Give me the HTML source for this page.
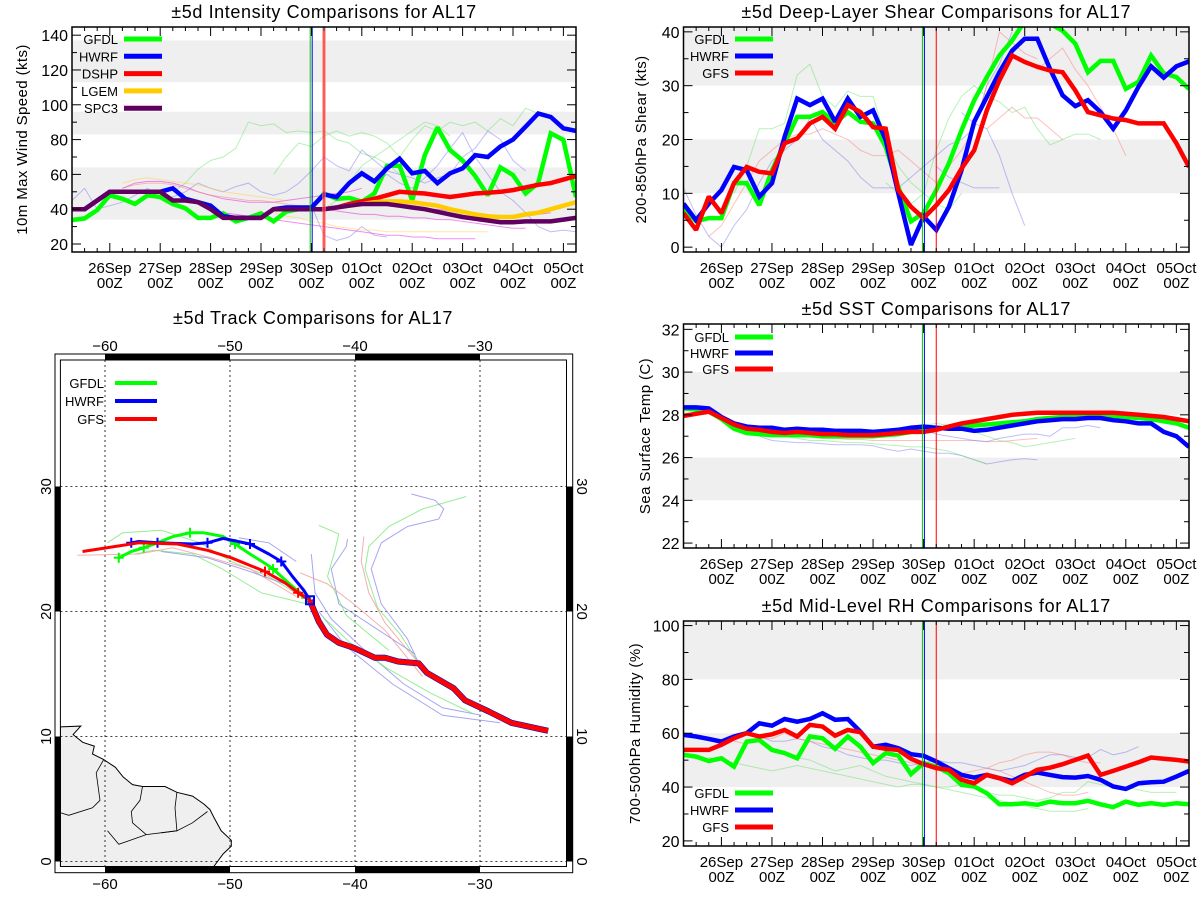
<!DOCTYPE html>
<html><head><meta charset="utf-8"><title>AL17 ±5d comparisons</title>
<style>
html,body{margin:0;padding:0;background:#fff;}
svg{display:block;font-family:"Liberation Sans",Arial,sans-serif;}
</style></head>
<body>
<svg id="fig" width="1200" height="900" viewBox="0 0 1200 900" xmlns="http://www.w3.org/2000/svg"></svg>
<script>
// ---------- shared time axis ----------
const dayLabels = ['26Sep','27Sep','28Sep','29Sep','30Sep','01Oct','02Oct','03Oct','04Oct','05Oct'];
const hourLabel = '00Z';

// ---------- intensity (kt) ----------
const intGFDL = [33.8,34.7,39.5,48,46,43,48,47,43,40.5,35,35,37.6,33,35,37.6,33,38.6,40,40.5,49,46,46.5,44.3,49,65,65,45,71,87,74,68,59,48,64,59.6,49,55,83.6,79.8,47];
const intHWRF = [40,40,45,50,50,50,50,50,52,46,44,42,36,35,35,35,40,41,41,41,48.5,47,55,60.6,56,63.5,69,60.6,62,55,60.6,63.5,71,70,76,80,87.4,95,93,86.5,85];
const intDSHP = [40,41,43,44.5,46,48,50,49.5,49,48,47,48,49,49.5,50,51,52.5,54,55,57,59];
const intLGEM = [40,41,42,43,44,44.5,44.5,44,43,42,40,38.5,37,36,35.5,35.5,37,38,40,42,44];
const intSPC3 = [40,40,45,50,50,50,50,50,45,45,44,40,35,35,35,35,40,40,40,40,40,41,42,43,43,43,42,41,40,38.5,37,35.5,34.5,33.5,32.5,32.5,33,33,33,34,35];
const intThinG1 = [50,55,63,68,70,75,90,88,89,84,85,84,85,80,78,72,70,66,60];
const intThinG2 = [60,70,78,76,82,85,82,84,82,78,70,80,88,85,90,88,90,85,92,88,98,95];
const intThinG3 = [40,45,55,65,70,75,80,85,90,88,82];
const intThinB1 = [45,52,40,42,44,48,52,46,47,50,55,52,50,53,55,50,48,50,55,62,70,65,62,74,68,62,60,58,55,58,60,70,75,85,80,68,62];
const intThinB2 = [40,42,25,22,24,30,25,24];
const intThinB3 = [55,60,55,52,58,65,75,84,70,60,50,45,38,30,27,28,27];
const intThinM1 = [52,55,56,56,55,53,50,48,46,45,44,44,44,45,46,47,48,49,50,52];
const intThinM2 = [38,37,36,35,34,33,32,31,30,29,28,27,26,25,25,24,24,23,23,23,23];
const intThinM3 = [40,39,38,37,37,36,36,35,35,34,34,33,32,31,30,29,29];
const intThinM4 = [40,40,39,38,37,36,35,35,36,37,38];
const intThinY1 = [55,57,58,57,56,55,54,52,50,49,48,47,46,45];
const intThinY2 = [38,36,35,33,32,30,29,28,28,27,27,27,27,27,27,27,27,27];
const intThinP1 = [52,54,55,55,54,52,50,48,47,46,45,45,44,43,42,41,40,40];

// ---------- shear (kt) ----------
const shrGFDL = [7.2,4.8,5.4,5.4,11.9,11.9,7.8,14.3,19.3,24.2,24.2,25.1,23,25.1,23.3,23,18.6,11.2,4.8,6.3,10.6,15.6,21.7,27.3,31.6,35.6,38.4,42,41.8,41.5,40.2,37.8,32.5,34.6,34.6,29.4,30.7,35.6,32.3,31.6,29.4];
const shrHWRF = [8.1,5,8.1,10.6,14.9,14.3,9.4,11.9,20.5,27.6,26.4,27.6,23.3,27.6,24.2,25.4,19.9,10,0.4,5.7,3.2,7.5,14.3,23.3,27.9,32.5,36.5,38.7,38.7,33.1,28.2,26.2,27.3,25.1,22,25.4,29.8,33.6,31.5,33.6,34.5];
const shrGFS  = [6.3,3.2,9.4,6.3,11.9,14.9,14,13.7,19.3,20.2,23,24.2,22,26.4,25.1,22.3,22,10.6,7.5,5.4,7.8,10.6,14.6,18,25.4,31,35.6,34.4,33.5,32.8,32.5,29.1,25.1,24.5,23.9,23.6,23,23,23,19.3,14.9];
const shrThinG1 = [10,15,22,22,23,32,34,28,26,29,28,28,20,15,12,10,8,7,10];
const shrThinG2 = [12,10,8,10,18,24,28,30,28,27,25,26,22,19,20,21,21,20];
const shrThinB1 = [11,6,2,0,4,7,12,16,18,20,24,20,18,16,13,11,11,11,13,15,17,19,20,22,30,34,40];
const shrThinB2 = [15,13,12,11,11,11];
const shrThinB3 = [25,23,22,17,10,4];
const shrThinR1 = [2,4,8,12,16,18,20,21,21,22,21,20,18,17,17,18,16,14,12,15,18,22,30,40,38,36,35];
const shrThinR2 = [22,24,26,24,24,22,20];
const shrThinR3 = [33,35,37,33,30,26,22,17];

// ---------- SST (C) ----------
const sstGFDL = [28.3,28.25,28.15,27.8,27.35,27.15,27.1,27.05,27.05,27.05,27.05,27.0,27.0,27.0,27.0,27.0,27.05,27.1,27.2,27.25,27.35,27.4,27.45,27.5,27.55,27.6,27.65,27.7,27.8,27.85,27.9,27.95,28.0,28.0,27.95,27.9,27.85,27.8,27.7,27.6,27.4];
const sstHWRF = [28.35,28.35,28.3,27.9,27.6,27.45,27.4,27.4,27.3,27.35,27.3,27.3,27.25,27.25,27.25,27.2,27.25,27.3,27.4,27.45,27.4,27.35,27.35,27.25,27.3,27.4,27.5,27.6,27.7,27.75,27.8,27.8,27.85,27.85,27.75,27.7,27.6,27.6,27.2,27.0,26.5];
const sstGFS  = [27.95,28.05,28.15,27.85,27.55,27.35,27.3,27.2,27.15,27.2,27.15,27.1,27.1,27.05,27.05,27.05,27.1,27.15,27.2,27.2,27.3,27.45,27.6,27.7,27.8,27.9,28.0,28.05,28.1,28.1,28.1,28.1,28.1,28.1,28.1,28.05,28.0,27.95,27.9,27.8,27.7];
const sstThinB1 = [27.0,26.8,26.75,26.7,26.7,26.65,26.6,26.6,26.6,26.55,26.4,26.3,26.4,26.3,26.2,26.2,26.1,25.9,25.7,25.8,25.9,25.95,25.9];
const sstThinG1 = [27.0,26.9,26.8,26.8,26.75,26.7,26.7,26.65,26.6,26.55,26.5,26.5,26.4,26.3,26.1,25.9,25.7];
const sstThinR1 = [27.1,27.0,26.95,26.9,26.9,26.85,26.85,26.8,26.8,26.8,26.8,26.8,26.8,26.8,26.8,26.8,26.75,26.75,26.8,26.85,26.9];
const sstThinB2 = [27.5,27.3,27.1,27.0,26.9,26.8,26.75,26.9,27.0,27.1,27.1,27.0,27.4,27.4,27.5,27.4];
const sstThinG2 = [27.4,27.5,27.6,27.5,27.4,27.2,27.0,26.8,26.7,26.5,26.6,26.7,26.8,26.9];

// ---------- RH (%) ----------
const rhGFDL = [52,51.3,49.7,50.7,47.6,56.9,57.5,53.8,52.6,50.7,58.8,58.1,54.2,58.8,55,48.9,52.6,51.7,44.8,48.9,47.6,45.1,40.8,40.2,37.7,33.6,33.6,34,33.4,34.6,34,34,34.9,33.6,32.5,34.6,33.4,34,33.4,34,33.6];
const rhHWRF = [59.4,58.8,57.9,56.9,58.8,60,63.7,62.8,65.3,64.3,65.3,67.4,65,65.3,60.6,55,55.7,54.4,52.2,51.6,49.5,47,44.5,43.5,44.5,43.3,42.3,44.5,45.4,44.5,43.7,43.5,44.1,42.7,40.2,39.3,41.4,41.8,42,43.9,46];
const rhGFS  = [53.8,53.8,53.8,55.7,58.1,60,58.8,59.6,61.2,58.8,63.1,62.5,59.1,61.2,60.4,55,54.2,53.8,50.5,48.5,47,46.4,42.7,41.4,44.5,43.3,41.4,43.9,46.4,47.2,48.5,50.1,51.7,44.5,46,47.6,49.2,51,50.5,50.1,49.5];
const rhThinG1 = [51,50,49,48,47,46,47,48,47,46,45,44,43,42,41,40,41,41,40,39,38,37,36,35,34,33,32,31,31,31,32];
const rhThinG2 = [52,51,50,48,46,47,48,46,44,43,42,41,40,40,41,40,38,37,37,36,35,36,38,38,42,41,40,40,39,38,38,38];
const rhThinB1 = [58,60,59,57,57,58,57,55,54,52,51,50,50,49,48,49,50,49,49,48,47,46,47,48,50,52,52,51,51,54,52,53,55];
const rhThinR1 = [57,56,58,58,60,58,57,56,55,54,53,52,51,50,49,48,47,46,45,46,47,49,50,52,53,53,52,50,49,49];
const rhThinR2 = [47,46,44,42,40,38,37,37,38];

// ---------- tracks (lon, lat) ----------
const bestLon = [-24.55,-27.5,-29.3,-31.2,-32.1,-34.25,-34.9,-36.55,-37.6,-38.4,-40.1,-41.3,-42.25,-42.9,-43.5,-43.6];
const bestLat = [10.46,11.1,12,12.9,13.85,15.1,15.85,16,16.3,16.3,17.1,17.5,18.15,19.2,20.6,20.9];
const gfsLon = [-43.6,-44.55,-45.6,-47.2,-49.9,-51.8,-54.2,-57.3,-59.2,-61.8];
const gfsLat = [20.9,21.5,22.3,23.2,24.3,24.9,25.4,25.5,25.2,24.8];
const hwrfLon = [-43.6,-44.1,-45,-45.9,-46.9,-48.4,-50.55,-51.8,-53,-55.8,-57.3,-57.9];
const hwrfLat = [20.9,21.7,22.8,24,24.6,25.4,25.85,25.5,25.4,25.5,25.6,25.5];
const gfdlLon = [-43.6,-43.9,-45,-46.55,-47.2,-48.4,-49.6,-50.55,-52.1,-53.2,-54.55,-55.8,-56.9,-57.9,-58.9];
const gfdlLat = [20.9,21.1,22,23.4,23.85,24.6,25.4,26,26.3,26.3,26,25.5,25.1,24.8,24.3];
const gfsMarkLon = [-47.2,-44.55]; const gfsMarkLat = [23.2,21.5];
const hwrfMarkLon = [-57.9,-55.8,-51.8,-48.4,-45.9]; const hwrfMarkLat = [25.5,25.5,25.5,25.4,24];
const gfdlMarkLon = [-58.9,-56.9,-53.2,-49.6,-46.55,-43.9]; const gfdlMarkLat = [24.3,25.1,26.3,25.4,23.4,21.1];
const thinTracks = [
 ['#7be87b',[-34.9,-36.4,-38.2,-39.2,-38.9,-37.3,-34.6,-31.1],[15.85,18.2,20.3,23.4,25.2,26.8,28.2,29.2]],
 ['#8f8ff0',[-34.9,-35.8,-37.9,-38.7,-37.9,-35.8,-33.3,-32.9,-33.6,-35.5],[15.85,17.8,20.6,23.4,25.5,26.8,27.4,28.2,28.9,29.4]],
 ['#f59a9a',[-34.9,-37.6,-38.9,-39.5,-39.3],[15.85,19.1,21.5,24,26]],
 ['#7be87b',[-37.3,-40.7,-42.2,-41.6,-41.3,-42.9],[16.9,19.7,22.8,24.9,26.2,26.9]],
 ['#8f8ff0',[-35.2,-41.3,-41.9,-40.7,-40.6],[16.6,20.6,23.4,25.2,25.8]],
 ['#8f8ff0',[-29.9,-33,-36.1,-38.9,-41.9,-43.2,-43.5],[11.7,12.3,14.2,16.6,19.4,21.5,24.6]],
 ['#7be87b',[-43.8,-46.9,-49.9,-52.4,-55.5,-58.6,-59.8],[20.9,22.8,24,25.5,26.5,26.3,25.5]],
 ['#7be87b',[-43.8,-47.5,-50.6,-53,-56.1,-57.6],[20.6,21.5,23.4,24.6,24.9,24.6]],
 ['#f59a9a',[-44.7,-48.4,-51.5,-54.6,-57.3,-62.2],[21.2,23.4,24.3,25.1,24.6,24.5]],
 ['#8f8ff0',[-43.8,-45.6,-48.4,-51.8,-55.5],[21.2,22.2,23.2,24.3,24.8]],
 ['#8f8ff0',[-44.7,-46.9,-49.3],[24,25.5,25.9]],
 ['#f59a9a',[-34.6,-37.6,-40.1,-42.2,-44.4],[14.8,18.5,20.6,22.2,23.1]],
 ['#8f8ff0',[-28.4,-33,-37,-40.7,-42.9],[11.1,11.7,14.2,17.2,20]],
 ['#7be87b',[-30.5,-34,-37.5,-40.5,-42.5],[11.8,13.5,15.5,17.6,19.5]]
];
const coastLon = [-63.57,-61.94,-62.55,-61.78,-60.86,-61.0,-60.1,-59.17,-58.55,-57.8,-57.0,-55.2,-54.25,-53.0,-52.1,-51.6,-51.3,-50.7,-49.9,-49.9,-50.55,-51.3,-63.57];
const coastLat = [10.77,10.83,10.15,9.54,9.23,8.6,8.15,7.54,6.77,6.15,6.0,6.0,5.54,5.23,4.6,4.15,3.54,2.46,1.7,1.23,0.6,-0.4,-0.4];
const borders = [
 [[-60.1,-60.7,-60.4,-61.0,-62.9,-63.57],[8.15,7.1,4.9,4.3,3.7,3.9]],
 [[-57.0,-57.2,-57.9,-57.8,-56.7],[6.0,4.9,4.0,3.1,2.15]],
 [[-54.25,-54.4,-54.25,-55.5],[5.54,4.3,2.46,2.3]],
 [[-59.8,-58.9,-56.7,-54.25,-53.0,-51.8],[2.46,1.38,2.15,2.46,3.1,4.0]]
];

// ---------- helpers ----------
const NS = 'http://www.w3.org/2000/svg';
const fig = document.getElementById('fig');
function el(tag, attrs, parent) {
  const e = document.createElementNS(NS, tag);
  for (const k in attrs) e.setAttribute(k, attrs[k]);
  (parent || fig).appendChild(e);
  return e;
}
function txt(s, attrs, parent, name) {
  const t = el('text', attrs, parent);
  t.textContent = s;
  
  
  return t;
}

function timePanel(cfg) {
  const g = el('g', {});
  
  
  const W = cfg.R - cfg.L, H = cfg.B - cfg.T;
  const xs = i => cfg.L + i * W / 40;
  const ys = v => cfg.B - (v - cfg.vmin) / (cfg.vmax - cfg.vmin) * H;
  const clip = 'clip-' + cfg.name;
  const cp = el('clipPath', {id: clip}, g);
  el('rect', {x: cfg.L, y: cfg.T, width: W, height: H}, cp);
  cfg.bands.forEach(b => {
    const r = el('rect', {x: cfg.L, y: ys(Math.min(b[1], cfg.vmax)), width: W, height: ys(b[0]) - ys(Math.min(b[1], cfg.vmax)), fill: '#efefef'}, g);
    
    
  });
  const pg = el('g', {'clip-path': 'url(#' + clip + ')'}, g);
  function line(vals, start, color, w, op, name) {
    const pts = vals.map((v, k) => xs(start + k).toFixed(1) + ',' + ys(v).toFixed(1)).join(' ');
    const p = el('polyline', {points: pts, fill: 'none', stroke: color, 'stroke-width': w, 'stroke-opacity': op, 'stroke-linejoin': 'miter', 'stroke-miterlimit': 2}, pg);
    
    
  }
  cfg.thin.forEach(t => line(t[2], t[1], t[0], 1, 0.45, 'ensemble-member-line'));
  cfg.series.forEach(s => line(s.values, s.start, s.color, 4.5, 1, s.label.toLowerCase() + '-line'));
  cfg.vlines.forEach(v => {
    const x = xs(v[0]) + v[4];
    const l = el('line', {x1: x, x2: x, y1: cfg.T, y2: cfg.B, stroke: v[1], 'stroke-width': v[2], 'stroke-opacity': v[3]}, g);
    
    
  });
  const fr = el('rect', {x: cfg.L, y: cfg.T, width: W, height: H, fill: 'none', stroke: '#000', 'stroke-width': 1.5}, g);
  
  
  for (let i = 0; i <= 40; i++) {
    const major = (i - 3) % 4 === 0;
    const len = major ? 9 : 4;
    el('line', {x1: xs(i), x2: xs(i), y1: cfg.B, y2: cfg.B - len, stroke: '#000', 'stroke-width': 1}, g);
    el('line', {x1: xs(i), x2: xs(i), y1: cfg.T, y2: cfg.T + len, stroke: '#000', 'stroke-width': 1}, g);
  }
  dayLabels.forEach((d, k) => {
    const x = xs(3 + 4 * k);
    txt(d, {x: x, y: cfg.B + 21, 'font-size': 15, 'text-anchor': 'middle'}, g, 'x-tick-label');
    txt(hourLabel, {x: x, y: cfg.B + 36, 'font-size': 15, 'text-anchor': 'middle'}, g, 'x-tick-label');
  });
  for (let v = Math.ceil(cfg.vmin / cfg.minor) * cfg.minor; v <= cfg.vmax; v += cfg.minor) {
    const major = cfg.majors.indexOf(v) >= 0;
    const len = major ? 9 : 5;
    el('line', {x1: cfg.L, x2: cfg.L + len, y1: ys(v), y2: ys(v), stroke: '#000'}, g);
    el('line', {x1: cfg.R, x2: cfg.R - len, y1: ys(v), y2: ys(v), stroke: '#000'}, g);
  }
  cfg.majors.forEach(v => txt(String(v), {x: cfg.L - 4, y: ys(v) + 6, 'font-size': 16, 'text-anchor': 'end'}, g, 'y-tick-label'));
  txt(cfg.title, {x: (cfg.L + cfg.R) / 2, y: cfg.T - 9, 'font-size': 18, 'letter-spacing': 0.6, 'text-anchor': 'middle'}, g, 'chart-title');
  const cy = (cfg.T + cfg.B) / 2;
  txt(cfg.ytitle, {x: cfg.ytx, y: cy, 'font-size': 15, 'letter-spacing': 0.4, 'text-anchor': 'middle', transform: 'rotate(-90 ' + cfg.ytx + ' ' + cy + ')'}, g, 'y-axis-title');
  cfg.series.forEach((s, k) => {
    const y = cfg.legY + k * cfg.legDY;
    txt(s.label, {x: cfg.legTX, y: y + 5, 'font-size': 13, 'text-anchor': 'end'}, g, 'legend-label');
    const l = el('line', {x1: cfg.legTX + 6, x2: cfg.legTX + 44, y1: y, y2: y, stroke: s.color, 'stroke-width': 5}, g);
    
    
  });
}

timePanel({name: 'intensity-panel', L: 72, R: 576, T: 27, B: 252, vmin: 15.4, vmax: 144.7,
  majors: [20,40,60,80,100,120,140], minor: 10, bands: [[34,64],[83,96],[113,137]],
  title: '±5d Intensity Comparisons for AL17', ytitle: '10m Max Wind Speed (kts)', ytx: 27,
  thin: [['#5fe05f',8,intThinG1],['#5fe05f',16,intThinG2],['#5fe05f',20,intThinG3],['#7070f0',0,intThinB1],['#7070f0',18,intThinB2],['#7070f0',24,intThinB3],
         ['#e000e0',4,intThinM1],['#e000e0',12,intThinM2],['#e000e0',20,intThinM3],['#e000e0',28,intThinM4],['#ffcc33',4,intThinY1],['#ffcc33',16,intThinY2],['#ff7070',4,intThinP1]],
  series: [{label:'GFDL',color:'#00ff00',start:0,values:intGFDL},{label:'HWRF',color:'#0000ff',start:0,values:intHWRF},
           {label:'DSHP',color:'#ff0000',start:20,values:intDSHP},{label:'LGEM',color:'#ffcc00',start:20,values:intLGEM},{label:'SPC3',color:'#600060',start:0,values:intSPC3}],
  vlines: [[19,'#00cc00',1,1,-1.2],[19,'#0000ff',1,1,0.8],[20,'#ff8080',4,0.6,0],[20,'#ff0000',1,1,0]],
  legTX: 118, legY: 39, legDY: 17.3});

timePanel({name: 'shear-panel', L: 683.5, R: 1189, T: 27, B: 252, vmin: -0.9, vmax: 40.9,
  majors: [0,10,20,30,40], minor: 5, bands: [[10,20],[30,41]],
  title: '±5d Deep-Layer Shear Comparisons for AL17', ytitle: '200-850hPa Shear (kts)', ytx: 646,
  thin: [['#5fe05f',4,shrThinG1],['#5fe05f',16,shrThinG2],['#7070f0',0,shrThinB1],['#7070f0',20,shrThinB2],['#7070f0',22,shrThinB3],
         ['#ff7070',2,shrThinR1],['#ff7070',24,shrThinR2],['#ff7070',28,shrThinR3]],
  series: [{label:'GFDL',color:'#00ff00',start:0,values:shrGFDL},{label:'HWRF',color:'#0000ff',start:0,values:shrHWRF},{label:'GFS',color:'#ff0000',start:0,values:shrGFS}],
  vlines: [[19,'#00cc00',1,1,-1.2],[19,'#0000ff',1,1,0.8],[20,'#ff0000',1,1,0]],
  legTX: 729, legY: 39, legDY: 17});

timePanel({name: 'sst-panel', L: 683.5, R: 1189, T: 324, B: 548, vmin: 21.77, vmax: 32.25,
  majors: [22,24,26,28,30,32], minor: 1, bands: [[24,26],[28,30]],
  title: '±5d SST Comparisons for AL17', ytitle: 'Sea Surface Temp (C)', ytx: 650,
  thin: [['#7070f0',6,sstThinB1],['#5fe05f',8,sstThinG1],['#ff7070',8,sstThinR1],['#7070f0',18,sstThinB2],['#5fe05f',18,sstThinG2]],
  series: [{label:'GFDL',color:'#00ff00',start:0,values:sstGFDL},{label:'HWRF',color:'#0000ff',start:0,values:sstHWRF},{label:'GFS',color:'#ff0000',start:0,values:sstGFS}],
  vlines: [[19,'#00cc00',1,1,-1.2],[19,'#0000ff',1,1,0.8],[20,'#ff0000',1,1,0]],
  legTX: 729, legY: 337, legDY: 16});

timePanel({name: 'rh-panel', L: 683.5, R: 1189, T: 621, B: 846, vmin: 18.1, vmax: 101.7,
  majors: [20,40,60,80,100], minor: 10, bands: [[40,60],[80,102]],
  title: '±5d Mid-Level RH Comparisons for AL17', ytitle: '700-500hPa Humidity (%)', ytx: 640,
  thin: [['#5fe05f',2,rhThinG1],['#5fe05f',8,rhThinG2],['#7070f0',4,rhThinB1],['#ff7070',4,rhThinR1],['#ff7070',24,rhThinR2]],
  series: [{label:'GFDL',color:'#00ff00',start:0,values:rhGFDL},{label:'HWRF',color:'#0000ff',start:0,values:rhHWRF},{label:'GFS',color:'#ff0000',start:0,values:rhGFS}],
  vlines: [[19,'#00cc00',1,1,-1.2],[19,'#0000ff',1,1,0.8],[20,'#ff0000',1,1,0]],
  legTX: 729, legY: 793, legDY: 17});

(function () {
  const g = el('g', {});
  
  
  const L = 60.4, R = 566.5, T = 360, B = 866.5;
  const mx = lon => 105 + (lon + 60) * 12.5;
  const my = lat => 861.5 - lat * 12.5;
  const pts = (lo, la) => lo.map((v, k) => mx(v).toFixed(1) + ',' + my(la[k]).toFixed(1)).join(' ');
  const cp = el('clipPath', {id: 'mapclip'}, g);
  el('rect', {x: L, y: T, width: R - L, height: B - T}, cp);
  const mg = el('g', {'clip-path': 'url(#mapclip)'}, g);
  const land = el('polygon', {points: pts(coastLon, coastLat), fill: '#efefef', stroke: '#000', 'stroke-width': 1}, mg);
  
  
  borders.forEach(b => {
    const p = el('polyline', {points: pts(b[0], b[1]), fill: 'none', stroke: '#000', 'stroke-width': 0.8}, mg);
    
    
  });
  [-60,-50,-40,-30].forEach(lo => el('line', {x1: mx(lo), x2: mx(lo), y1: T, y2: B, stroke: '#000', 'stroke-width': 0.8, 'stroke-dasharray': '2,3'}, mg));
  [0,10,20,30].forEach(la => el('line', {x1: L, x2: R, y1: my(la), y2: my(la), stroke: '#000', 'stroke-width': 0.8, 'stroke-dasharray': '2,3'}, mg));
  thinTracks.forEach(t => {
    const p = el('polyline', {points: pts(t[1], t[2]), fill: 'none', stroke: t[0], 'stroke-width': 1, 'stroke-opacity': 0.8}, mg);
    
    
  });
  function track(lo, la, c, w, name) {
    const p = el('polyline', {points: pts(lo, la), fill: 'none', stroke: c, 'stroke-width': w, 'stroke-linejoin': 'round'}, mg);
    
    
  }
  function marks(lo, la, c) {
    lo.forEach((v, k) => {
      const x = mx(v), y = my(la[k]);
      el('path', {d: 'M' + (x - 5) + ' ' + y + 'H' + (x + 5) + 'M' + x + ' ' + (y - 5) + 'V' + (y + 5), stroke: c, 'stroke-width': 2}, mg);
    });
  }
  track(bestLon, bestLat, '#00ff00', 6, 'gfdl-history-track');
  track(bestLon, bestLat, '#0000ff', 6, 'hwrf-history-track');
  track(bestLon, bestLat, '#ff0000', 5, 'gfs-history-track');
  track(gfdlLon, gfdlLat, '#00ff00', 3, 'gfdl-track');
  marks(gfdlMarkLon, gfdlMarkLat, '#00ff00');
  track(hwrfLon, hwrfLat, '#0000ff', 3, 'hwrf-track');
  marks(hwrfMarkLon, hwrfMarkLat, '#0000ff');
  track(gfsLon, gfsLat, '#ff0000', 3, 'gfs-track');
  marks(gfsMarkLon, gfsMarkLat, '#ff0000');
  const sq = el('rect', {x: mx(-43.6) - 4, y: my(20.9) - 4, width: 8, height: 8, fill: 'none', stroke: '#0000ff', 'stroke-width': 2}, mg);
  
  
  el('rect', {x: L, y: T, width: R - L, height: B - T, fill: 'none', stroke: '#000', 'stroke-width': 1}, g);
  el('rect', {x: 55, y: 354, width: 517.7, height: 518.7, fill: 'none', stroke: '#000', 'stroke-width': 1}, g);
  [[-60,-50],[-40,-30]].forEach(s => {
    el('rect', {x: mx(s[0]), y: 354, width: mx(s[1]) - mx(s[0]), height: 6, fill: '#000'}, g);
    el('rect', {x: mx(s[0]), y: 866.5, width: mx(s[1]) - mx(s[0]), height: 6.2, fill: '#000'}, g);
  });
  [[0,10],[20,30]].forEach(s => {
    el('rect', {x: 55, y: my(s[1]), width: 5.4, height: my(s[0]) - my(s[1]), fill: '#000'}, g);
    el('rect', {x: 566.5, y: my(s[1]), width: 6.2, height: my(s[0]) - my(s[1]), fill: '#000'}, g);
  });
  [-60,-50,-40,-30].forEach(lo => {
    txt('\u2212' + Math.abs(lo), {x: mx(lo), y: 351, 'font-size': 15, 'text-anchor': 'middle'}, g, 'longitude-label');
    txt('\u2212' + Math.abs(lo), {x: mx(lo), y: 889, 'font-size': 15, 'text-anchor': 'middle'}, g, 'longitude-label');
  });
  [0,10,20,30].forEach(la => {
    const y = my(la);
    txt(String(la), {x: 51, y: y, 'font-size': 15, 'text-anchor': 'middle', transform: 'rotate(-90 51 ' + y + ')'}, g, 'latitude-label');
    txt(String(la), {x: 577, y: y, 'font-size': 15, 'text-anchor': 'middle', transform: 'rotate(90 577 ' + y + ')'}, g, 'latitude-label');
  });
  txt('±5d Track Comparisons for AL17', {x: 313, y: 324, 'font-size': 18, 'letter-spacing': 0.6, 'text-anchor': 'middle'}, g, 'chart-title');
  [['GFDL','#00ff00'],['HWRF','#0000ff'],['GFS','#ff0000']].forEach((e, k) => {
    const y = 383 + k * 18;
    txt(e[0], {x: 104, y: y + 5, 'font-size': 13, 'text-anchor': 'end'}, g, 'legend-label');
    const l = el('line', {x1: 115, x2: 157, y1: y, y2: y, stroke: e[1], 'stroke-width': 4}, g);
    
    
  });
})();
</script>
</body></html>
